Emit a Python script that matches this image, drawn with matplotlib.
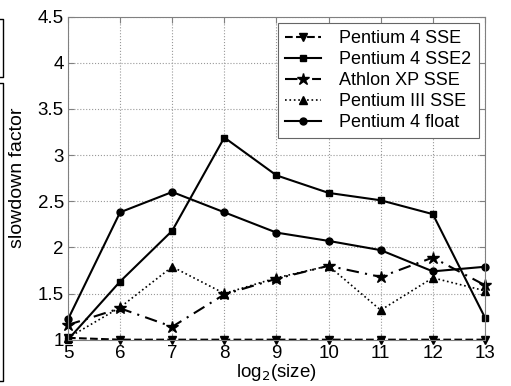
import numpy as np
import matplotlib.pyplot as plt
from matplotlib.lines import Line2D

plt.rcParams.update({'font.family': ['Liberation Sans', 'DejaVu Sans'],
                     'xtick.direction': 'in',
                     'ytick.direction': 'in',
                     })

# data
sizes = [5, 6, 7, 8, 9, 10, 11, 12, 13]
p4_sse = [1.02, 1.0, 1.0, 1.0, 1.0, 1.0, 1.0, 1.0, 1.0]
p4_sse2 = [1.0, 1.63, 2.18, 3.19, 2.78, 2.59, 2.51, 2.36, 1.24]
athlon_sse = [1.16, 1.34, 1.14, 1.49, 1.66, 1.80, 1.68, 1.89, 1.59]
p3_sse = [1.02, 1.35, 1.79, 1.50, 1.67, 1.80, 1.32, 1.67, 1.53]
p4_float = [1.22, 2.38, 2.60, 2.38, 2.16, 2.07, 1.97, 1.74, 1.79]
yticks = [1, 1.5, 2, 2.5, 3, 3.5, 4, 4.5]
yticklabels = ['1', '1.5', '2', '2.5', '3', '3.5', '4', '4.5']

fig = plt.figure(figsize=(5.11, 3.86), dpi=100)
ax = fig.add_axes([0.133, 0.12, 0.816, 0.837])

ax.plot(sizes, p4_sse, 'k--v', lw=1.5, ms=6, clip_on=False, label='Pentium 4 SSE')
ax.plot(sizes, p4_sse2, 'k-s', lw=1.5, ms=5, clip_on=False, label='Pentium 4 SSE2')
ax.plot(sizes, athlon_sse, 'k*', ls=(0, (6, 3, 1, 3)), lw=1.5, ms=9, clip_on=False,
        label='Athlon XP SSE')
ax.plot(sizes, p3_sse, 'k:^', lw=1.2, ms=6, clip_on=False, label='Pentium III SSE')
ax.plot(sizes, p4_float, 'k-o', lw=1.5, ms=5, clip_on=False, label='Pentium 4 float')

ax.set_xlim(5, 13)
ax.set_ylim(1, 4.5)
ax.set_xticks(sizes)
ax.set_yticks(yticks)
ax.set_yticklabels(yticklabels)
ax.tick_params(labelsize=13.5, length=4, color='0.5', top=True, right=True)
ax.tick_params(axis='x', pad=4)
ax.tick_params(axis='y', pad=3)
ax.grid(True, ls=':', color='0.6', lw=0.8)
for s in ax.spines.values():
    s.set_color('0.5')

ax.set_xlabel('log$_2$(size)', fontsize=13.5, labelpad=0)
ax.set_ylabel('slowdown factor', fontsize=14, labelpad=8)

leg = ax.legend(loc='upper right', fontsize=13, fancybox=False, framealpha=1,
                edgecolor='0.4', handlelength=2.0, borderpad=0.4,
                labelspacing=0.22, borderaxespad=0.35, handletextpad=1.0)
leg.get_frame().set_linewidth(0.8)

# fragments of the neighbouring figure at the left edge
for x0, x1, y0, y1 in [(0, 0.006, 0.95, 0.80), (0, 0.006, 0.785, 0.013)]:
    fig.add_artist(Line2D([x0, x1, x1, x0], [y0, y0, y1, y1], color='k', lw=1,
                          transform=fig.transFigure))

fig.savefig('out.png', dpi=100)
